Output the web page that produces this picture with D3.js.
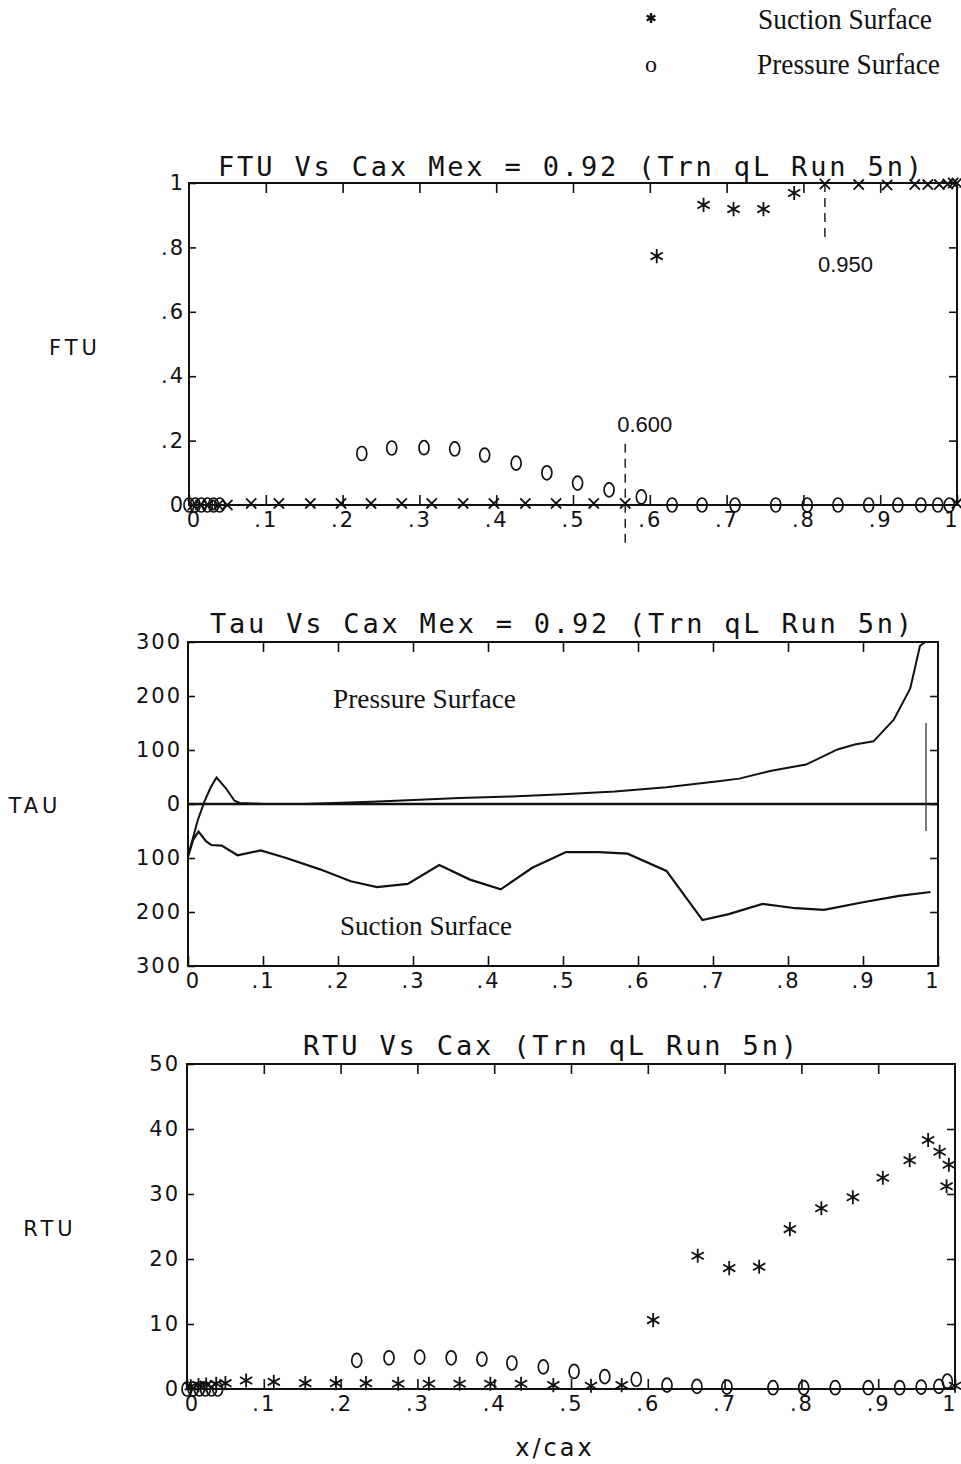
<!DOCTYPE html>
<html lang="en">

<head>
  <meta charset="UTF-8">
  <title>FTU / Tau / RTU vs Cax</title>
  <style>
    body {
      margin: 0;
      background: #fff;
    }

    svg {
      display: block;
      background: #fff;
    }
  </style>
</head>

<body>
  <svg></svg>
  <script src="https://d3js.org/d3.v7.min.js"></script>
  <script>
    // ---- data ----
    var xTicks = [0, .1, .2, .3, .4, .5, .6, .7, .8, .9, 1];

    // FTU panel
    var ftuTicks = [0, .2, .4, .6, .8, 1];
    var ftuSuctionX = [0.005, 0.015, 0.025, 0.038, 0.05, 0.081, 0.117, 0.158, 0.198, 0.237, 0.277, 0.316, 0.357,
      0.397, 0.438, 0.478, 0.527, 0.568, 0.609, 0.670, 0.709, 0.748, 0.788, 0.828, 0.872, 0.909, 0.945, 0.962,
      0.977, 0.988, 0.995, 1.0, 1.0];
    var ftuSuctionY = [0, 0, 0, 0, 0, .005, .005, .005, .005, .005, .005, .005, .005, .005, .005, .005, .005, .005,
      .773, .932, .919, .919, .969, .997, .995, .994, .995, .995, .995, .997, 1.0, 1.0, 0.005];
    var ftuPressureX = [0.0, 0.008, 0.016, 0.024, 0.032, 0.040, 0.225, 0.264, 0.306, 0.346, 0.385, 0.426, 0.466,
      0.506, 0.547, 0.589, 0.629, 0.668, 0.711, 0.764, 0.805, 0.845, 0.885, 0.923, 0.953, 0.975, 0.99];
    var ftuPressureY = [0, 0, 0, 0, 0, 0, .16, .177, .178, .174, .155, .13, .10, .068, .047, .025, 0, 0, 0, 0, 0,
      0, 0, 0, 0, 0, 0];
    // dashed markers: [x, label]
    var ftuMarks = [[0.568, '0.600'], [0.828, '0.950']];

    // Tau panel
    var tauTicks = [-300, -200, -100, 0, 100, 200, 300];
    var tauPressX = [0, .013, .022, .030, .038, .050, .062, .069, .10, .155, .245, .293, .362, .431, .50, .569,
      .638, .707, .735, .776, .824, .866, .889, .914, .941, .963, .976, .983];
    var tauPressY = [-97, -30, 5, 30, 49, 30, 6, 2, 0, 0, 4, 7, 11, 14, 18, 23, 31, 42, 47, 61, 73, 101, 110, 116,
      156, 214, 293, 300];
    var tauSuctX = [0, .007, .014, .024, .031, .045, .066, .097, .131, .176, .217, .252, .293, .335, .376, .417,
      .459, .504, .548, .586, .638, .686, .721, .766, .810, .848, .900, .948, .990];
    var tauSuctY = [-97, -66, -51, -69, -76, -77, -95, -86, -100, -121, -143, -154, -148, -113, -140, -158, -118,
      -89, -89, -92, -124, -215, -204, -185, -193, -196, -182, -170, -163];
    var tauEdgeX = [.984, .984];
    var tauEdgeY = [150, -50];

    // RTU panel
    var rtuTicks = [0, 10, 20, 30, 40, 50];
    var rtuSuctX = [0.005, 0.015, 0.025, 0.038, 0.05, 0.077, 0.113, 0.154, 0.194, 0.233, 0.275, 0.315, 0.355,
      0.395, 0.435, 0.477, 0.526, 0.566, 0.607, 0.665, 0.706, 0.745, 0.785, 0.826, 0.867, 0.906, 0.941, 0.965,
      0.980, 0.992, 0.989, 1.0];
    var rtuSuctY = [0.4, 0.6, 0.7, 0.8, 0.9, 1.3, 1.1, 0.9, 0.9, 0.9, 0.8, 0.8, 0.8, 0.8, 0.8, 0.6, 0.5, 0.6,
      10.6, 20.5, 18.6, 18.8, 24.6, 27.8, 29.5, 32.5, 35.2, 38.3, 36.5, 34.5, 31.2, 0.5];
    var rtuPressX = [0, .008, .016, .024, .032, .040, .221, .263, .303, .344, .384, .423, .464, .504, .544, .585,
      .625, .664, .703, .763, .803, .844, .887, .928, .956, .979, .99];
    var rtuPressY = [0, 0, 0, 0, 0, 0, 4.4, 4.8, 4.9, 4.8, 4.6, 4.0, 3.4, 2.7, 1.9, 1.5, 0.6, 0.4, 0.3, 0.2, 0.2,
      0.2, 0.2, 0.2, 0.3, 0.4, 1.2];

    // ---- drawing ----
    var plotFont = 'DejaVu Sans';
    var titleFont = 'DejaVu Sans Mono';
    var svg = d3.select('svg').attr('width', 961).attr('height', 1464);

    var zip = (xs, ys) => xs.map((x, i) => ({ x: x, y: ys[i] }));
    var fmtX = d => d === 0 ? '0' : d === 1 ? '1' : d3.format('.1f')(d).replace('0.', '.');

    function frame(x, y, yTicks, yFmt, yPad) {
      var g = svg.append('g');
      var x0 = x.range()[0], x1 = x.range()[1];
      var yb = y.range()[0], yt = y.range()[1];
      var inner = xTicks.slice(1, -1);

      var bottom = g.append('g').attr('transform', 'translate(0,' + yb + ')')
        .call(d3.axisBottom(x).tickValues(xTicks).tickSize(-10).tickPadding(7).tickFormat(fmtX));
      g.append('g').attr('transform', 'translate(0,' + yt + ')')
        .call(d3.axisTop(x).tickValues(inner).tickSize(-10).tickFormat(''));
      g.append('g').attr('transform', 'translate(' + x0 + ',0)')
        .call(d3.axisLeft(y).tickValues(yTicks).tickSize(-7).tickPadding(yPad).tickFormat(yFmt));
      g.append('g').attr('transform', 'translate(' + x1 + ',0)')
        .call(d3.axisRight(y).tickValues(yTicks.slice(1, -1)).tickSize(-8).tickFormat(''));

      g.selectAll('.domain').remove();
      g.selectAll('.tick line').attr('stroke', '#111').attr('stroke-width', 1.6);
      g.selectAll('text')
        .attr('font-family', plotFont)
        .attr('font-size', 21)
        .attr('letter-spacing', 2)
        .attr('fill', '#111');
      // keep the "0" and "1" labels inside the frame edges
      bottom.selectAll('.tick text').filter(d => d === 0).attr('dx', 5);
      bottom.selectAll('.tick text').filter(d => d === 1).attr('text-anchor', 'end').attr('dx', 2);

      g.append('rect')
        .attr('x', x0).attr('y', yt)
        .attr('width', x1 - x0).attr('height', yb - yt)
        .attr('fill', 'none').attr('stroke', '#111').attr('stroke-width', 2);
      return g;
    }

    function title(txt, cx, cy, len) {
      svg.append('text')
        .attr('x', cx).attr('y', cy)
        .attr('text-anchor', 'middle')
        .attr('font-family', titleFont).attr('font-size', 27)
        .attr('textLength', len).attr('lengthAdjust', 'spacing')
        .attr('fill', '#111')
        .text(txt);
    }

    function sideLabel(txt, cx, cy) {
      svg.append('text')
        .attr('x', cx).attr('y', cy)
        .attr('text-anchor', 'middle')
        .attr('font-family', plotFont).attr('font-size', 21)
        .attr('letter-spacing', 4)
        .attr('fill', '#111')
        .text(txt);
    }

    function serif(txt, x, y, len, size) {
      svg.append('text')
        .attr('x', x).attr('y', y)
        .attr('font-family', 'Liberation Serif').attr('font-size', size)
        .attr('textLength', len).attr('lengthAdjust', 'spacingAndGlyphs')
        .attr('fill', '#111')
        .text(txt);
    }

    function circles(g, data, x, y) {
      g.selectAll(null).data(data).join('ellipse')
        .attr('cx', d => x(d.x)).attr('cy', d => y(d.y))
        .attr('rx', 5).attr('ry', 7)
        .attr('fill', 'none').attr('stroke', '#111').attr('stroke-width', 1.7);
    }

    function stars(g, data, x, y, pickType) {
      g.selectAll(null).data(data).join('path')
        .attr('transform', d => 'translate(' + x(d.x) + ',' + y(d.y) + ')')
        .attr('d', d => d3.symbol().type(pickType(d)).size(pickType(d) === d3.symbolX ? 70 : 140)())
        .attr('fill', 'none').attr('stroke', '#111').attr('stroke-width', 1.8);
    }

    // legend at top
    svg.append('path')
      .attr('transform', 'translate(651,18)')
      .attr('d', d3.symbol().type(d3.symbolAsterisk).size(70)())
      .attr('stroke', '#111').attr('stroke-width', 2.4).attr('fill', 'none');
    svg.append('text').attr('x', 651).attr('y', 72).attr('text-anchor', 'middle')
      .attr('font-family', 'Liberation Serif').attr('font-size', 24)
      .attr('fill', '#111').text('o');
    serif('Suction Surface', 758, 29, 174, 29);
    serif('Pressure Surface', 757, 74, 183, 29);

    // ---- panel 1: FTU ----
    var x1 = d3.scaleLinear().domain([0, 1]).range([189, 957]);
    var y1 = d3.scaleLinear().domain([0, 1]).range([505, 183]);
    var g1 = frame(x1, y1, ftuTicks, d => d === 0 ? '0' : d === 1 ? '1' : fmtX(d), 4);
    title('FTU Vs Cax  Mex = 0.92 (Trn qL  Run 5n)', 570, 176, 704);
    sideLabel('FTU', 75, 355);
    circles(g1, zip(ftuPressureX, ftuPressureY), x1, y1);
    stars(g1, zip(ftuSuctionX, ftuSuctionY), x1, y1,
      d => (d.y > 0.05 && d.y < 0.99) ? d3.symbolAsterisk : d3.symbolX);

    ftuMarks.forEach((m, i) => {
      var top = i === 0 ? y1(0.19) : y1(1);
      var bot = i === 0 ? y1(0) + 43 : y1(0.82);
      g1.append('line')
        .attr('x1', x1(m[0])).attr('x2', x1(m[0]))
        .attr('y1', top).attr('y2', bot)
        .attr('stroke', '#111').attr('stroke-width', 1.4).attr('stroke-dasharray', '9,6');
      g1.append('text')
        .attr('x', i === 0 ? x1(m[0]) - 8 : x1(m[0]) - 7)
        .attr('y', i === 0 ? y1(0.19) - 12 : y1(0.82) + 31)
        .attr('font-family', 'Liberation Sans').attr('font-size', 22)
        .attr('fill', '#111')
        .text(m[1]);
    });

    // ---- panel 2: Tau ----
    var x2 = d3.scaleLinear().domain([0, 1]).range([188, 938]);
    var y2 = d3.scaleLinear().domain([-300, 300]).range([966, 642]);
    var g2 = frame(x2, y2, tauTicks, d => String(Math.abs(d)), 6);
    title('Tau Vs Cax  Mex = 0.92 (Trn qL  Run 5n)', 561, 633, 702);
    sideLabel('TAU', 35, 813);

    var line2 = d3.line().x(d => x2(d.x)).y(d => y2(d.y));
    g2.append('line')
      .attr('x1', x2(0)).attr('x2', x2(1))
      .attr('y1', y2(0)).attr('y2', y2(0))
      .attr('stroke', '#111').attr('stroke-width', 2.6);
    g2.append('path').attr('d', line2(zip(tauPressX, tauPressY)))
      .attr('fill', 'none').attr('stroke', '#111').attr('stroke-width', 2);
    g2.append('path').attr('d', line2(zip(tauSuctX, tauSuctY)))
      .attr('fill', 'none').attr('stroke', '#111').attr('stroke-width', 2.2);
    g2.append('path').attr('d', line2(zip(tauEdgeX, tauEdgeY)))
      .attr('fill', 'none').attr('stroke', '#333').attr('stroke-width', 1.3);
    serif('Pressure Surface', 333, 708, 183, 27);
    serif('Suction Surface', 340, 935, 172, 27);

    // ---- panel 3: RTU ----
    var x3 = d3.scaleLinear().domain([0, 1]).range([187, 955]);
    var y3 = d3.scaleLinear().domain([0, 50]).range([1389, 1064]);
    var g3 = frame(x3, y3, rtuTicks, d => String(d), 7);
    title('RTU Vs Cax  (Trn qL Run 5n)', 550, 1055, 494);
    sideLabel('RTU', 50, 1236);
    circles(g3, zip(rtuPressX, rtuPressY), x3, y3);
    stars(g3, zip(rtuSuctX, rtuSuctY), x3, y3, d => d3.symbolAsterisk);

    svg.append('text')
      .attr('x', 555).attr('y', 1456)
      .attr('text-anchor', 'middle')
      .attr('font-family', plotFont).attr('font-size', 24)
      .attr('letter-spacing', 3)
      .attr('fill', '#111')
      .text('x/cax');
  </script>
</body>

</html>
